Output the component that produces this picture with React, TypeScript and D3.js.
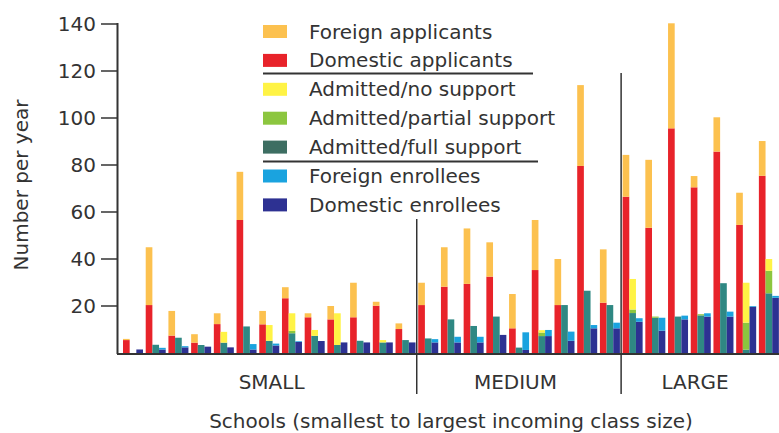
import React from 'react';
import * as d3 from 'd3';

const schools = [
  'S1', 'S2', 'S3', 'S4', 'S5', 'S6', 'S7', 'S8', 'S9', 'S10', 'S11', 'S12', 'S13',
  'M1', 'M2', 'M3', 'M4', 'M5', 'M6', 'M7', 'M8', 'M9',
  'L1', 'L2', 'L3', 'L4', 'L5', 'L6', 'L7',
];
const sizeGroups = ['SMALL', 'MEDIUM', 'LARGE'];
const groupCounts = [13, 9, 7];

const domesticApplicants = [5.5, 20.4, 7.4, 4.4, 12.3, 56.6, 12.2, 23.3, 15.2, 14.3, 15.2, 20.1, 10.2,
  20.4, 28.2, 29.4, 32.5, 10.5, 35.3, 20.4, 79.6, 21.4,
  66.5, 53.3, 95.6, 70.5, 85.7, 54.5, 75.4];
const foreignApplicants = [0.5, 24.6, 10.5, 3.6, 4.6, 20.5, 5.7, 4.7, 1.7, 5.7, 14.7, 1.7, 2.4,
  9.5, 16.8, 23.6, 14.6, 14.6, 21.3, 19.6, 34.4, 22.7,
  17.8, 28.9, 44.7, 4.8, 14.6, 13.7, 14.8];
const admittedFull = [0, 3.5, 6.5, 3.4, 4.4, 11.3, 5.2, 8.4, 7.3, 3.4, 5.2, 4.5, 5.5,
  6.2, 14.3, 11.5, 15.5, 2.3, 7.2, 20.4, 26.5, 20.4,
  17, 15, 15.5, 16, 29.7, 1.4, 25.4];
const admittedPartial = [0, 0, 0, 0, 0, 0, 0, 1, 0, 0, 0, 0, 0,
  0, 0, 0, 0, 0, 1.5, 0, 0, 0,
  1.5, 0.5, 0, 0.5, 0, 11.5, 9.6];
const admittedNone = [0, 0, 0, 0, 4.6, 0, 6.7, 7.5, 2.5, 13.5, 0, 1, 0,
  0, 0, 0, 0, 0, 1, 0, 0, 0,
  13, 0, 0, 0, 0, 17, 5];
const domesticEnrollees = [1.5, 1.5, 2.4, 2.7, 2.4, 1.5, 3.2, 4.7, 5.1, 4.5, 4.5, 4.5, 4.5,
  4.5, 4.5, 4.5, 7.7, 1.3, 7.2, 5.2, 10.5, 10.5,
  13.3, 9.5, 14.3, 15.5, 15.5, 19.7, 23.5];
const foreignEnrollees = [0, 0.7, 0.5, 0, 0, 2.3, 0.8, 0.3, 0, 0, 0, 0, 0,
  1.4, 2.4, 2.4, 0, 7.5, 2.6, 3.9, 1.4, 2.4,
  1.5, 5.5, 1.6, 1.4, 2.1, 0.3, 0.8];

const yTicks = [20, 40, 60, 80, 100, 120, 140];

const legendLabels = [
  'Foreign applicants', 'Domestic applicants',
  'Admitted/no support', 'Admitted/partial support', 'Admitted/full support',
  'Foreign enrollees', 'Domestic enrollees',
];
const legendColors = ['#FCC14F', '#E8232A', '#FFF345', '#8CC63F', '#3D6E62', '#1AA3DF', '#2D3192'];
const barColors = {
  foreignApp: '#FCC14F', domesticApp: '#E8232A',
  none: '#FFF345', partial: '#8CC63F', full: '#2F8883',
  foreignEnr: '#1AA3DF', domesticEnr: '#2D3192',
};

const W = 779;
const H = 433;
const FONT = '"DejaVu Sans", Verdana, sans-serif';
const labelShift = [5, -1, -3];

export default function App() {
  const x0 = d3.scaleBand<string>().domain(schools).range([119, 119 + 29 * 22.71]);
  const x1 = d3.scaleBand<string>().domain(['app', 'adm', 'enr']).range([4, 24]);
  const y = d3.scaleLinear().domain([0, 140]).range([353, 24]);

  const stacks = schools.map((_, i) => [
    { kind: 'app', parts: [{ v: domesticApplicants[i], c: barColors.domesticApp }, { v: foreignApplicants[i], c: barColors.foreignApp }] },
    { kind: 'adm', parts: [{ v: admittedFull[i], c: barColors.full }, { v: admittedPartial[i], c: barColors.partial }, { v: admittedNone[i], c: barColors.none }] },
    { kind: 'enr', parts: [{ v: domesticEnrollees[i], c: barColors.domesticEnr }, { v: foreignEnrollees[i], c: barColors.foreignEnr }] },
  ]);

  // group boundaries
  const groupStarts: number[] = [];
  let acc = 0;
  groupCounts.forEach((n) => { groupStarts.push(acc); acc += n; });

  const rects: React.ReactNode[] = [];
  stacks.forEach((bars, i) => {
    bars.forEach((b) => {
      let base = 0;
      b.parts.forEach((p, k) => {
        if (p.v <= 0) return;
        const top = base + p.v;
        rects.push(
          <rect
            key={`${i}-${b.kind}-${k}`}
            x={(x0(schools[i]) as number) + (x1(b.kind) as number)}
            width={x1.bandwidth()}
            y={y(top)}
            height={y(base) - y(top)}
            fill={p.c}
          />
        );
        base = top;
      });
    });
  });

  return (
    <svg width={W} height={H} style={{ position: 'absolute', left: 0, top: 0, background: '#fff' }} fontFamily={FONT}>
      {rects}

      {/* axes */}
      <line x1={117.5} x2={117.5} y1={23} y2={354} stroke="#333" strokeWidth={2} />
      <line x1={117} x2={W} y1={354} y2={354} stroke="#333" strokeWidth={2} />
      {yTicks.map((t) => (
        <g key={t}>
          <line x1={101} x2={117} y1={y(t)} y2={y(t)} stroke="#333" strokeWidth={1.5} />
          <text x={96} y={y(t)} textAnchor="end" dominantBaseline="central" fontSize={20} fill="#333">{t}</text>
        </g>
      ))}

      {/* group separators */}
      {groupStarts.slice(1).map((s, gi) => (
        <line key={gi} x1={(x0(schools[s]) as number) + 2.5} x2={(x0(schools[s]) as number) + 2.5}
          y1={gi === 0 ? 219 : 73} y2={394} stroke="#333" strokeWidth={1.5} />
      ))}
      {sizeGroups.map((g, gi) => {
        const first = x0(schools[groupStarts[gi]]) as number;
        const last = (x0(schools[groupStarts[gi] + groupCounts[gi] - 1]) as number) + x0.bandwidth();
        return (
          <text key={g} x={(first + last) / 2 + labelShift[gi]} y={389} textAnchor="middle" fontSize={20} fill="#333">{g}</text>
        );
      })}

      <text x={451} y={428} textAnchor="middle" fontSize={20} fill="#333">Schools (smallest to largest incoming class size)</text>
      <text transform="translate(28,185) rotate(-90)" textAnchor="middle" fontSize={20} fill="#333">Number per year</text>

      {/* legend */}
      {legendLabels.map((l, i) => {
        const cy = 31.5 + i * 28.9;
        return (
          <g key={l}>
            <rect x={263} y={cy - 6.5} width={24} height={13} fill={legendColors[i]} />
            <text x={309} y={cy} dominantBaseline="central" fontSize={20} fill="#333">{l}</text>
          </g>
        );
      })}
      <line x1={263} x2={533} y1={73.5} y2={73.5} stroke="#333" strokeWidth={2} />
      <line x1={263} x2={538} y1={161.5} y2={161.5} stroke="#333" strokeWidth={2} />
    </svg>
  );
}
